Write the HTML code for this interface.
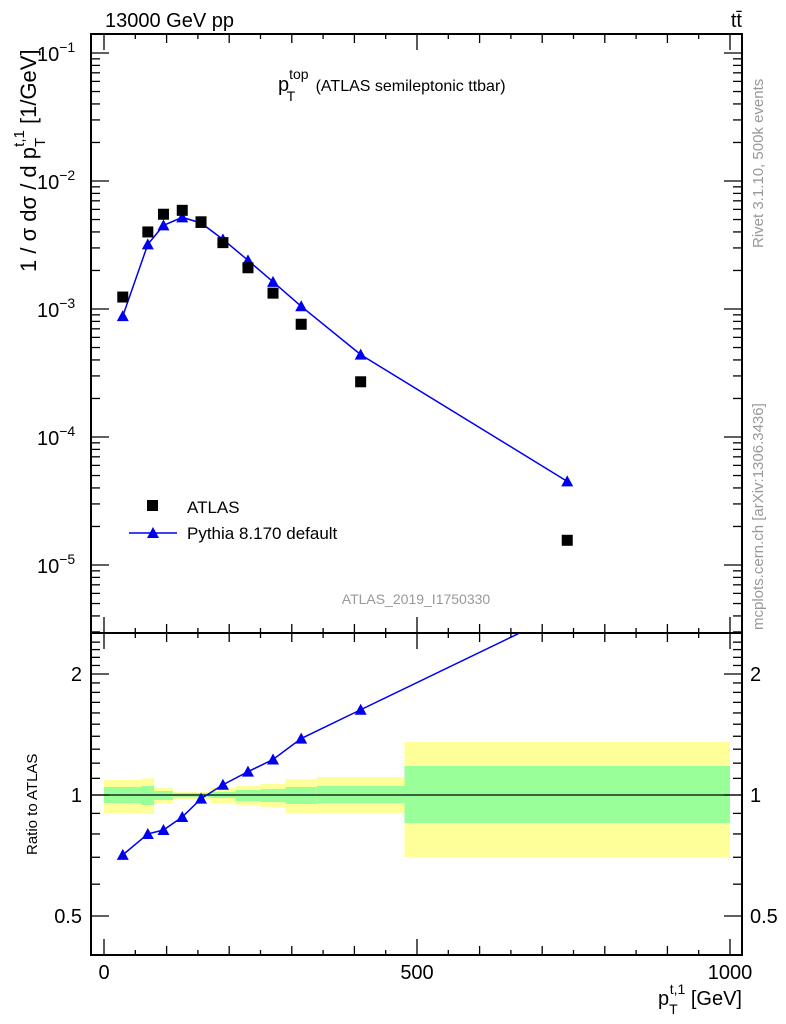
<!DOCTYPE html>
<html><head><meta charset="utf-8"><style>
body{margin:0;background:#fff;}
svg{display:block;font-family:"Liberation Sans",Arial,sans-serif;}
</style></head><body>
<svg id="c" width="786" height="1024" viewBox="0 0 786 1024"></svg>
<script>
const xCats=[30,70,95,125,155,190,230,270,315,410,740];
const atlasVals=[1.24e-3,4.0e-3,5.5e-3,5.9e-3,4.8e-3,3.3e-3,2.1e-3,1.33e-3,7.6e-4,2.7e-4,1.56e-5];
const pythiaVals=[8.8e-4,3.2e-3,4.5e-3,5.2e-3,4.7e-3,3.5e-3,2.4e-3,1.63e-3,1.05e-3,4.4e-4,4.5e-5];
const binEdges=[0,60,80,110,170,210,250,290,340,480,1000];
const yellowUp=[1.09,1.10,1.041,1.017,1.041,1.053,1.065,1.096,1.109,1.355];
const yellowDn=[0.90,0.897,0.955,0.977,0.955,0.944,0.934,0.902,0.902,0.701];
const greenUp=[1.047,1.053,1.023,1.011,1.017,1.029,1.035,1.047,1.053,1.181];
const greenDn=[0.955,0.944,0.972,0.989,0.983,0.966,0.961,0.950,0.955,0.852];
const mainTicks=[-1,-2,-3,-4,-5];
const ratioTicks=[2,1,0.5];
const xTicks=[0,500,1000];

const svg=document.getElementById('c');
const NS='http://www.w3.org/2000/svg';
function el(t,a,p){const e=document.createElementNS(NS,t);for(const k in a)e.setAttribute(k,a[k]);(p||svg).appendChild(e);return e;}
const L=91,R=742,T=34,M=633,B=955;
const X=v=>104+v*0.626;
const Ym=v=>565-(Math.log10(v)+5)*128;
const Yr=v=>795-Math.log10(v)*402;

const bands=el('g',{});


for(let i=0;i<binEdges.length-1;i++){
  const x0=X(binEdges[i]),x1=X(binEdges[i+1]);
  const y=el('rect',{x:x0,y:Yr(yellowUp[i]),width:x1-x0,height:Yr(yellowDn[i])-Yr(yellowUp[i]),fill:'#ffff99'},bands);
  
  
  const g=el('rect',{x:x0,y:Yr(greenUp[i]),width:x1-x0,height:Yr(greenDn[i])-Yr(greenUp[i]),fill:'#99ff99'},bands);
  
  
}
el('line',{x1:L,x2:R,y1:Yr(1),y2:Yr(1),stroke:'#000','stroke-width':1.2});

const f1=el('rect',{x:L,y:T,width:R-L,height:M-T,fill:'none',stroke:'#000','stroke-width':2});


const f2=el('rect',{x:L,y:M,width:R-L,height:B-M,fill:'none',stroke:'#000','stroke-width':2});



for(let v=0;v<=1000;v+=50){
  const len=v%500===0?16:(v%100===0?9:5);
  for(const [yb,yt] of [[M,T],[B,M]]){
    el('line',{x1:X(v),x2:X(v),y1:yb,y2:yb-len,stroke:'#000','stroke-width':1.3});
    el('line',{x1:X(v),x2:X(v),y1:yt,y2:yt+len,stroke:'#000','stroke-width':1.3});
  }
}
xTicks.forEach(v=>{const t=el('text',{x:X(v),y:979,'font-size':20,'text-anchor':'middle'});t.textContent=v;

});

for(let d=-6;d<=-1;d++){
  for(let m=1;m<10;m++){
    const v=m*Math.pow(10,d),y=Ym(v);
    if(y<T||y>M)continue;
    const len=m===1?18:9;
    el('line',{x1:L,x2:L+len,y1:y,y2:y,stroke:'#000','stroke-width':1.3});
    el('line',{x1:R,x2:R-len,y1:y,y2:y,stroke:'#000','stroke-width':1.3});
  }
}
mainTicks.forEach(d=>{
  const t=el('text',{x:37,y:Ym(Math.pow(10,d))+8,'font-size':20});
  
  
  t.innerHTML='10<tspan dy="-9" font-size="14">'+(d<0?'\u2212':'')+Math.abs(d)+'</tspan>';
});
for(let v=0.4;v<=2.5;v+=0.1){
  const y=Yr(v);if(y<M||y>B)continue;
  const major=[0.5,1,2].some(m=>Math.abs(m-v)<1e-6);
  const len=major?18:9;
  el('line',{x1:L,x2:L+len,y1:y,y2:y,stroke:'#000','stroke-width':1.3});
  el('line',{x1:R,x2:R-len,y1:y,y2:y,stroke:'#000','stroke-width':1.3});
}
ratioTicks.forEach(v=>{
  const a=el('text',{x:82,y:Yr(v)+7,'font-size':20,'text-anchor':'end'});a.textContent=v;
  
  
  const b=el('text',{x:750,y:Yr(v)+7,'font-size':20});b.textContent=v;
  
  
});

function tri(x,y,g){return el('polygon',{points:`${x},${y-6} ${x-6},${y+5} ${x+6},${y+5}`,fill:'#0000ee'},g);}
const pm=el('g',{});


el('polyline',{points:xCats.map((x,i)=>X(x)+','+Ym(pythiaVals[i])).join(' '),fill:'none',stroke:'#0000ee','stroke-width':1.5},pm);
xCats.forEach((x,i)=>{const p=tri(X(x),Ym(pythiaVals[i]),pm);

});
const am=el('g',{});


xCats.forEach((x,i)=>{const r=el('rect',{x:X(x)-5.5,y:Ym(atlasVals[i])-5.5,width:11,height:11,fill:'#000'},am);

});
const cp=el('clipPath',{id:'rc'});el('rect',{x:L,y:M,width:R-L,height:B-M},cp);
const rg=el('g',{'clip-path':'url(#rc)'});


const rat=xCats.map((x,i)=>pythiaVals[i]/atlasVals[i]);
el('polyline',{points:xCats.map((x,i)=>X(x)+','+Yr(rat[i])).join(' '),fill:'none',stroke:'#0000ee','stroke-width':1.5},rg);
xCats.forEach((x,i)=>{const p=tri(X(x),Yr(rat[i]),rg);

});
</script>
<svg width="786" height="1024" style="position:absolute;left:0;top:0" font-family="Liberation Sans, Arial, sans-serif">
<text x="105" y="27" font-size="20">13000 GeV pp</text>
<text x="742" y="27" font-size="20" text-anchor="end">tt̄</text>
<text x="278" y="91" font-size="20">p<tspan dy="-12" font-size="14">top</tspan><tspan dx="-22" dy="22" font-size="14">T</tspan><tspan dx="16" dy="-10" font-size="16"> (ATLAS semileptonic ttbar)</tspan></text>
<text transform="translate(36,272) rotate(-90)" font-size="22">1 / σ dσ / d p<tspan dy="9" font-size="15">T</tspan><tspan dx="-9" dy="-21" font-size="15">t,1</tspan><tspan dy="12"> [1/GeV]</tspan></text>
<text transform="translate(37,855) rotate(-90)" font-size="15">Ratio to ATLAS</text>
<text transform="translate(763,248) rotate(-90)" font-size="15" fill="#999">Rivet 3.1.10,  500k events</text>
<text transform="translate(763,630) rotate(-90)" font-size="15" fill="#999">mcplots.cern.ch [arXiv:1306.3436]</text>
<text x="416" y="604" font-size="14" fill="#999" text-anchor="middle">ATLAS_2019_I1750330</text>
<g>
<rect x="147" y="500" width="11" height="11" fill="#000"/>
<text x="187" y="513" font-size="17">ATLAS</text>
<line x1="129" x2="177" y1="533" y2="533" stroke="#0000ee" stroke-width="1.5"/>
<polygon points="153,527 147,538 159,538" fill="#0000ee"/>
<text x="187" y="539" font-size="17">Pythia 8.170 default</text>
</g>
<text x="742" y="1005" font-size="20" text-anchor="end">p<tspan dy="9" font-size="14">T</tspan><tspan dx="-8" dy="-20" font-size="14">t,1</tspan><tspan dy="11"> [GeV]</tspan></text>
</svg>
</body></html>
